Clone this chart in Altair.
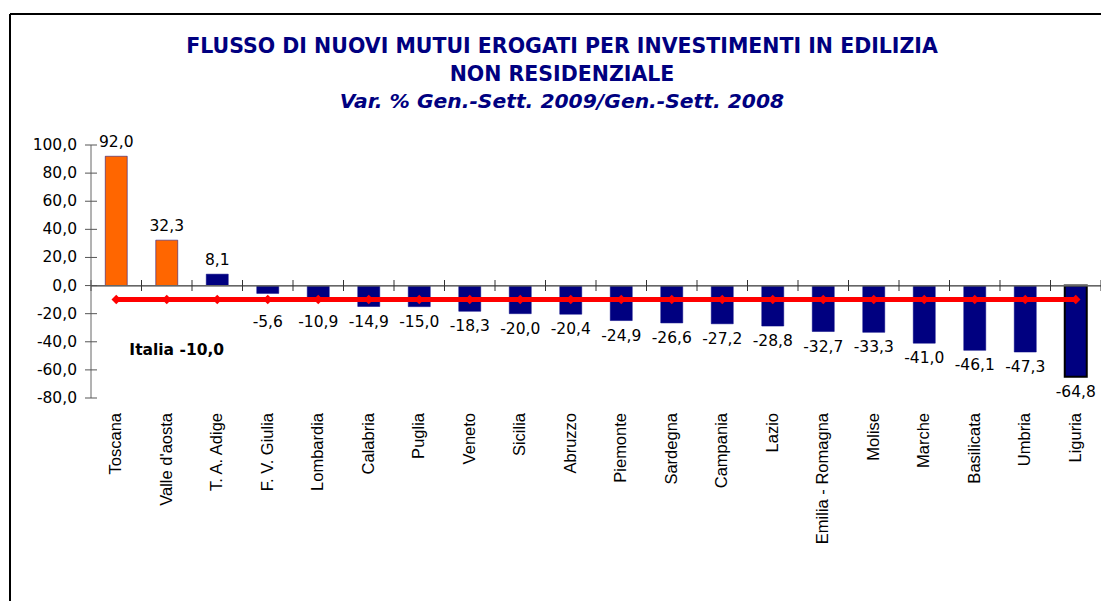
import altair as alt
import pandas as pd

regions = ["Toscana", "Valle d'aosta", "T. A. Adige", "F. V. Giulia", "Lombardia",
           "Calabria", "Puglia", "Veneto", "Sicilia", "Abruzzo", "Piemonte",
           "Sardegna", "Campania", "Lazio", "Emilia - Romagna", "Molise",
           "Marche", "Basilicata", "Umbria", "Liguria"]
values = [92.0, 32.3, 8.1, -5.6, -10.9, -14.9, -15.0, -18.3, -20.0, -20.4,
          -24.9, -26.6, -27.2, -28.8, -32.7, -33.3, -41.0, -46.1, -47.3, -64.8]
italia = -10.0
highlighted = ["Toscana", "Valle d'aosta"]
outlined = ["Liguria"]
y_ticks = [-80, -60, -40, -20, 0, 20, 40, 60, 80, 100]

W, H = 1010, 253
Y_MIN, Y_MAX = -80, 100

df = pd.DataFrame({"region": regions, "value": values, "italia": [italia] * len(regions)})
ytick_df = pd.DataFrame({"v": y_ticks})

NAVY = "#000080"
ORANGE = "#FF6600"
RED = "#FF0000"
FONT = "DejaVu Sans"
FMT = "replace(replace(format({}, '.1f'), '.', ','), '\u2212', '-')"

yscale = alt.Scale(domain=[Y_MIN, Y_MAX], nice=False, zero=False)
xscale = alt.Scale(paddingInner=0, paddingOuter=0)

def X(**kw):
    return alt.X("region:N", sort=regions, scale=xscale, axis=None, title=None, **kw)

base = alt.Chart(df).transform_calculate(
    label=FMT.format("datum.value"),
    neg_y="min(datum.value, -15)",
)

bars = base.mark_bar(size=22).encode(
    x=X(),
    y=alt.Y("value:Q", scale=yscale, axis=None, title=None),
    color=alt.condition(
        alt.FieldOneOfPredicate(field="region", oneOf=highlighted),
        alt.value(ORANGE), alt.value(NAVY)),
    stroke=alt.condition(
        alt.FieldOneOfPredicate(field="region", oneOf=outlined),
        alt.value("#000"), alt.value(NAVY)),
    strokeWidth=alt.condition(
        alt.FieldOneOfPredicate(field="region", oneOf=outlined),
        alt.value(2), alt.value(0.5)),
)

# x axis line at zero with crossing ticks at band boundaries
zero_line = base.mark_rule(color="#666", strokeWidth=1).encode(
    x=alt.value(0), x2=alt.value(W), y=alt.Y(datum=0, scale=yscale, axis=None)
)
x_ticks = base.mark_tick(orient="vertical", size=11, thickness=1, color="#333", opacity=1).encode(
    x=X(bandPosition=0),
    y=alt.Y(datum=0, scale=yscale, axis=None),
)
x_tick_end = base.transform_filter(
    alt.FieldEqualPredicate(field="region", equal=regions[-1])
).mark_tick(orient="vertical", size=11, thickness=1, color="#333", opacity=1).encode(
    x=X(bandPosition=1),
    y=alt.Y(datum=0, scale=yscale, axis=None),
)

# y axis: line, crossing ticks and labels
y_line = alt.Chart(ytick_df).mark_rule(color="#666", strokeWidth=1).encode(
    x=alt.value(0),
    y=alt.Y("min(v):Q", scale=yscale, axis=None),
    y2=alt.Y2("max(v):Q"),
)
y_tick_marks = alt.Chart(ytick_df).mark_tick(
    orient="horizontal", size=12, thickness=1, color="#555", opacity=1
).encode(
    x=alt.value(0),
    y=alt.Y("v:Q", scale=yscale, axis=None),
)
y_labels = alt.Chart(ytick_df).transform_calculate(
    lab=FMT.format("datum.v")
).mark_text(align="right", baseline="middle", font=FONT, fontSize=15.5, color="#000").encode(
    x=alt.value(-14),
    y=alt.Y("v:Q", scale=yscale, axis=None),
    text="lab:N",
)

# category labels, rotated
x_labels = base.mark_text(
    angle=270, align="right", baseline="middle", font="Liberation Sans",
    fontSize=16.5, color="#000"
).encode(
    x=X(),
    y=alt.value(H + 15),
    text="region:N",
)

italia_line = base.mark_line(color=RED, strokeWidth=5).encode(
    x=X(),
    y=alt.Y("italia:Q", scale=yscale, axis=None),
)
italia_pts = base.mark_point(shape="diamond", filled=True, size=90, color=RED, opacity=1).encode(
    x=X(),
    y=alt.Y("italia:Q", scale=yscale, axis=None),
)

pos_labels = base.transform_filter("datum.value > 0").mark_text(
    baseline="alphabetic", dy=-9, font=FONT, fontSize=15.5, color="#000"
).encode(
    x=X(),
    y=alt.Y("value:Q", scale=yscale, axis=None),
    text="label:N",
)
neg_labels = base.transform_filter("datum.value < 0").mark_text(
    baseline="top", dy=8, font=FONT, fontSize=15.5, color="#000"
).encode(
    x=X(),
    y=alt.Y("neg_y:Q", scale=yscale, axis=None),
    text="label:N",
)

annot_df = pd.DataFrame({"region": [regions[1]], "v": [italia]})
annotation = alt.Chart(annot_df).transform_calculate(
    txt="'Italia ' + " + FMT.format("datum.v")
).mark_text(font=FONT, fontSize=15.5, fontWeight="bold", color="#000", dx=10).encode(
    x=X(),
    y=alt.Y(datum=-46, scale=yscale, axis=None),
    text="txt:N",
)

frame_top = base.mark_rule(color="#000", strokeWidth=2).encode(
    x=alt.value(-81), x2=alt.value(W + 5), y=alt.value(-131))
frame_left = base.mark_rule(color="#000", strokeWidth=2).encode(
    x=alt.value(-81), y=alt.value(-131), y2=alt.value(H + 260))

chart = alt.layer(
    bars, zero_line, x_ticks, x_tick_end, y_line, y_tick_marks, y_labels, x_labels,
    italia_line, italia_pts, pos_labels, neg_labels, annotation, frame_top, frame_left
).properties(
    width=W, height=H,
    background="white",
    autosize=alt.AutoSizeParams(type="none"),
    padding={"left": 91, "top": 145, "right": 0, "bottom": 203},
    title=alt.TitleParams(
        text=["FLUSSO DI NUOVI MUTUI EROGATI PER INVESTIMENTI IN EDILIZIA", "NON RESIDENZIALE"],
        subtitle="Var. % Gen.-Sett. 2009/Gen.-Sett. 2008",
        font=FONT, fontSize=20.5, fontWeight="bold", color=NAVY, lineHeight=28,
        subtitleFont=FONT, subtitleFontSize=20.3, subtitleFontWeight="bold",
        subtitleFontStyle="italic", subtitleColor=NAVY, subtitlePadding=6,
        subtitleLineHeight=28,
        anchor="middle", frame="group", dx=-34, offset=-99,
    ),
).configure_view(strokeWidth=0)

chart.save("out.html", embed_options={"renderer": "svg", "actions": False})
